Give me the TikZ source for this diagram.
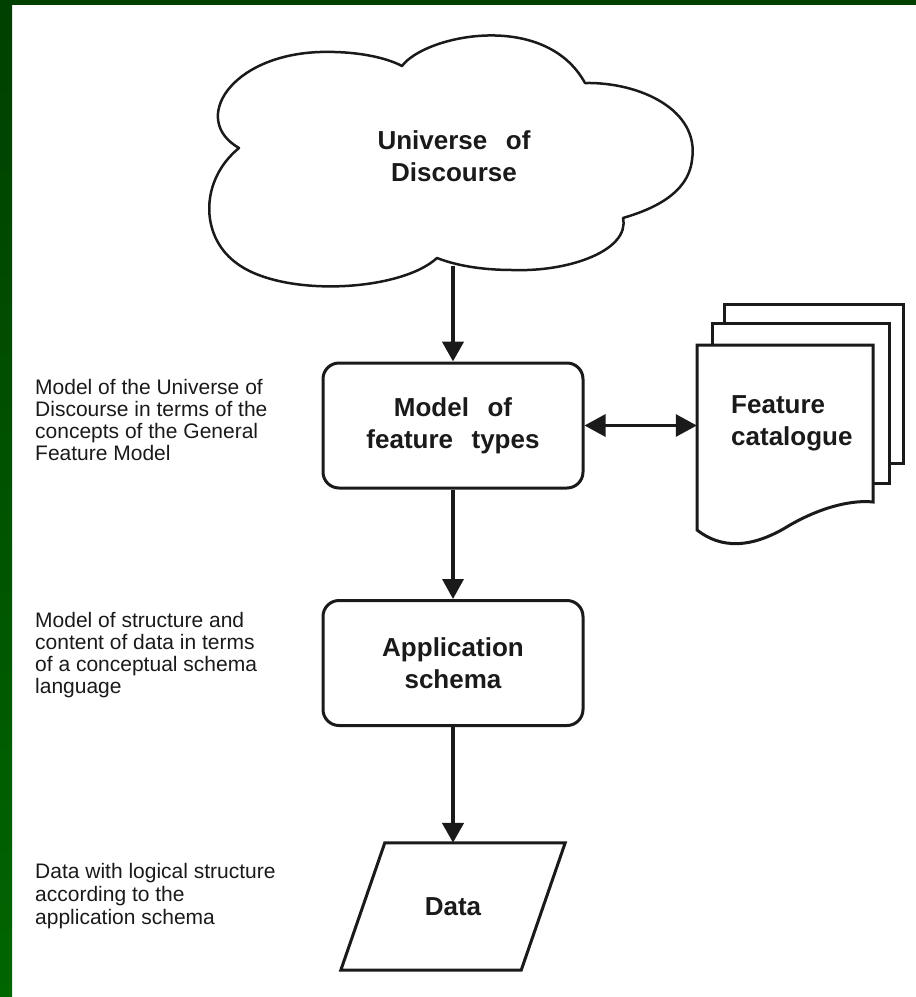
\documentclass[tikz,border=0pt]{standalone}
\usepackage{fontspec}
\setmainfont{Liberation Sans}
\usetikzlibrary{arrows.meta}
\definecolor{ink}{HTML}{1A1A1A}
\definecolor{frametop}{RGB}{0,64,0}
\definecolor{framebottom}{RGB}{0,102,0}
\newcommand\titlefont{\bfseries\fontsize{26}{32}\selectfont}
\newcommand\notefont{\fontsize{21}{22}\selectfont}
\newcommand\wgap{\hspace{18.5pt}}
\begin{document}
\begin{tikzpicture}[x=1pt,y=-1pt,
  >={Triangle[width=21pt,length=20pt]},
  stagebox/.style={draw=ink, line width=3pt, rounded corners=16pt,
    minimum width=260pt, minimum height=125pt, inner sep=0pt,
    align=center, font=\titlefont, text=ink, fill=white},
  % multi-line notes are anchored at the baseline of their last line
  note/.style={anchor=base west, align=left, inner sep=0pt, font=\notefont, text=ink},
  outline/.style={draw=ink, line width=2.5pt, line join=round, fill=white},
  docline/.style={draw=ink, line width=3pt, line join=miter, fill=white},
  flow/.style={draw=ink, ->, line width=4.5pt},
  thinflow/.style={draw=ink, ->, line width=3.5pt},
  both/.style={draw=ink, <->, line width=3pt,
    >={Triangle[width=22pt,length=21pt]}}
]
\useasboundingbox (0,0) rectangle (916,997);

% slide frame: dark green bars on the top and left edges
\fill[frametop] (0,0) rectangle (916,5);
\shade[top color=frametop, bottom color=framebottom] (0,0) rectangle (12,997);

% cloud: universe of discourse
\draw[outline]
  (239,148) .. controls (190,120) and (230,55) .. (320,52)
            .. controls (355,51) and (385,57) .. (402,66)
            .. controls (425,35) and (545,10) .. (585,83)
            .. controls (640,82) and (700,110) .. (692,160)
            .. controls (688,195) and (650,210) .. (623,218)
            .. controls (630,250) and (570,272) .. (513,270)
            .. controls (480,270) and (455,265) .. (437,258)
            .. controls (400,292) and (280,298) .. (235,262)
            .. controls (200,235) and (200,180) .. cycle;
\node[font=\titlefont, text=ink, align=center, inner sep=0pt] (uod) at (454,156)
  {Universe\wgap of\\Discourse};
\coordinate (uodbase) at (453,266);

% process boxes
\node[stagebox] (model) at (453,425.5) {Model\wgap of\\feature\wgap types};
\node[stagebox] (app) at (453,663) {Application\\schema};

% data parallelogram
\node[minimum width=180pt, minimum height=127pt, inner sep=0pt,
      font=\titlefont, text=ink] (data) at (453,906.5) {};
\draw[docline] ([xshift=22pt]data.north west) -- ([xshift=22pt]data.north east)
  -- ([xshift=-22pt]data.south east) -- ([xshift=-22pt]data.south west) -- cycle;
\node[font=\titlefont, text=ink, inner sep=0pt] (datatext) at (data.center) {Data};

% feature catalogue: stacked document pages
\node[minimum width=176pt, minimum height=185pt, inner sep=0pt] (catalog) at (785,437.5) {};
\draw[docline] (724,304) rectangle (903,463);
\draw[docline] (712,323) rectangle (889,483);
\draw[docline] (697,345) -- (873,345) -- (873,502)
  .. controls (855,500) and (825,505) .. (790,525)
  .. controls (750,550) and (720,548) .. (697,530) -- cycle;
\node[anchor=base west, align=left, inner sep=0pt, font=\titlefont, text=ink]
  (cattext) at (731,445) {Feature\\catalogue};

% connectors
\draw[flow] (uodbase) -- (model.north);
\draw[thinflow] (model.south) -- (app.north);
\draw[flow] (app.south) -- (data.north);
\draw[both] (model.east) -- (model.east -| catalog.west);

% explanatory notes
\node[note] (n1) at (35,460) {Model of the Universe of\\Discourse in terms of the\\concepts of the General\\Feature Model};
\node[note] (n2) at (35,693) {Model of structure and\\content of data in terms\\of a conceptual schema\\language};
\node[note, font=\fontsize{21}{23.3}\selectfont] (n3) at (35,924.6) {Data with logical structure\\according to the\\application schema};
\end{tikzpicture}
\end{document}
